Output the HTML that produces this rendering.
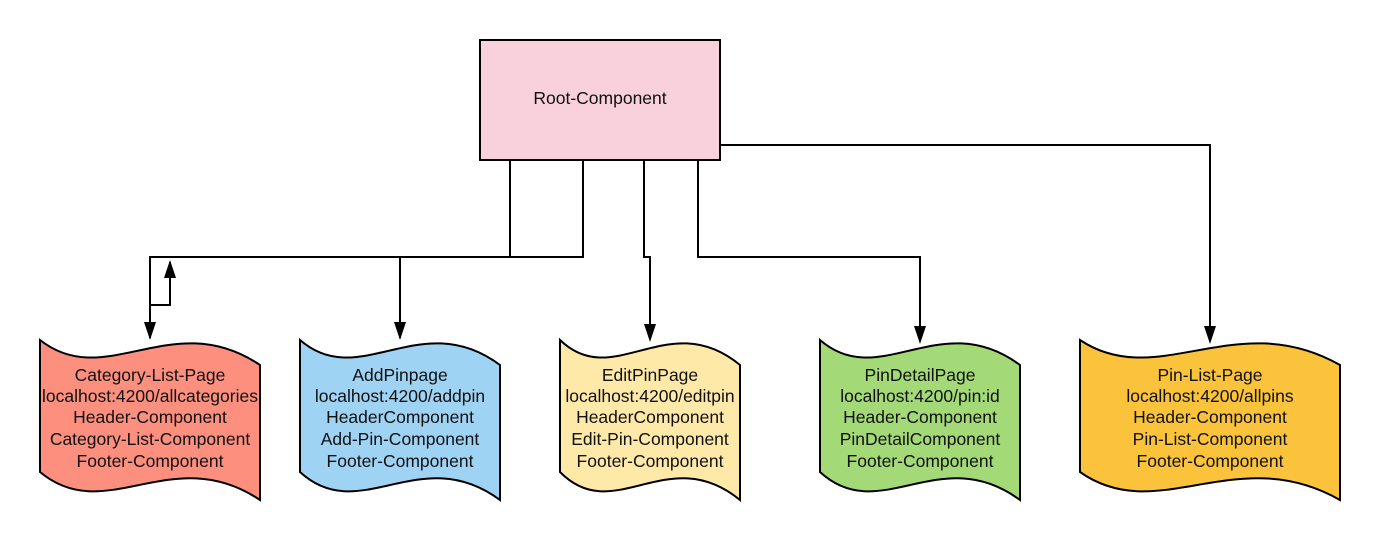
<!DOCTYPE html>
<html><head><meta charset="utf-8"><style>
html,body{margin:0;padding:0;background:#fff;}
svg text{font-family:"Liberation Sans",sans-serif;font-size:17.5px;fill:#111;text-anchor:middle;}
</style></head><body>
<svg width="1380" height="540" viewBox="0 0 1380 540" xmlns="http://www.w3.org/2000/svg">
<g stroke="#000" stroke-width="2" fill="none">
<polyline points="510,160 510,257"/>
<polyline points="583,160 583,257 150,257 150,338"/>
<polyline points="400,257 400,338"/>
<polyline points="150,305 170,305 170,262"/>
<polyline points="644,160 644,257 650,257 650,338"/>
<polyline points="698,160 698,257 920,257 920,338"/>
<polyline points="720,145 1210,145 1210,338"/>
</g>
<g fill="#000">
<path d="M144,322 L156,322 L150,340 Z"/>
<path d="M394,322 L406,322 L400,340 Z"/>
<path d="M644,324 L656,324 L650,342 Z"/>
<path d="M914,326 L926,326 L920,344 Z"/>
<path d="M1204,326 L1216,326 L1210,344 Z"/>
<path d="M164,278 L176,278 L170,260 Z"/>
</g>
<rect x="480" y="40" width="240" height="120" fill="#f8d1dd" stroke="#000" stroke-width="2"/>
<text x="600" y="104">Root-Component</text>
<g stroke="#000" stroke-width="2">
<path d="M40,340 C106,392 172,306 260,365 L260,500 C172,441 106,527 40,472 Z" fill="#fd8f7f"/>
<path d="M300,340 C360,392 420,306 500,365 L500,500 C420,441 360,527 300,472 Z" fill="#9fd3f4"/>
<path d="M560,340 C614,392 668,306 740,365 L740,500 C668,441 614,527 560,472 Z" fill="#ffe9a8"/>
<path d="M820,340 C880,392 940,306 1020,365 L1020,500 C940,441 880,527 820,472 Z" fill="#a4d977"/>
<path d="M1080,340 C1158,392 1236,306 1340,365 L1340,500 C1236,441 1158,527 1080,472 Z" fill="#fbc33c"/>
</g>
<g>
<text x="150" y="381">Category-List-Page</text><text x="150" y="402">localhost:4200/allcategories</text><text x="150" y="423">Header-Component</text><text x="150" y="445">Category-List-Component</text><text x="150" y="467">Footer-Component</text>
<text x="400" y="381">AddPinpage</text><text x="400" y="402">localhost:4200/addpin</text><text x="400" y="423">HeaderComponent</text><text x="400" y="445">Add-Pin-Component</text><text x="400" y="467">Footer-Component</text>
<text x="650" y="381">EditPinPage</text><text x="650" y="402">localhost:4200/editpin</text><text x="650" y="423">HeaderComponent</text><text x="650" y="445">Edit-Pin-Component</text><text x="650" y="467">Footer-Component</text>
<text x="920" y="381">PinDetailPage</text><text x="920" y="402">localhost:4200/pin:id</text><text x="920" y="423">Header-Component</text><text x="920" y="445">PinDetailComponent</text><text x="920" y="467">Footer-Component</text>
<text x="1210" y="381">Pin-List-Page</text><text x="1210" y="402">localhost:4200/allpins</text><text x="1210" y="423">Header-Component</text><text x="1210" y="445">Pin-List-Component</text><text x="1210" y="467">Footer-Component</text>
</g>
</svg>
</body></html>
